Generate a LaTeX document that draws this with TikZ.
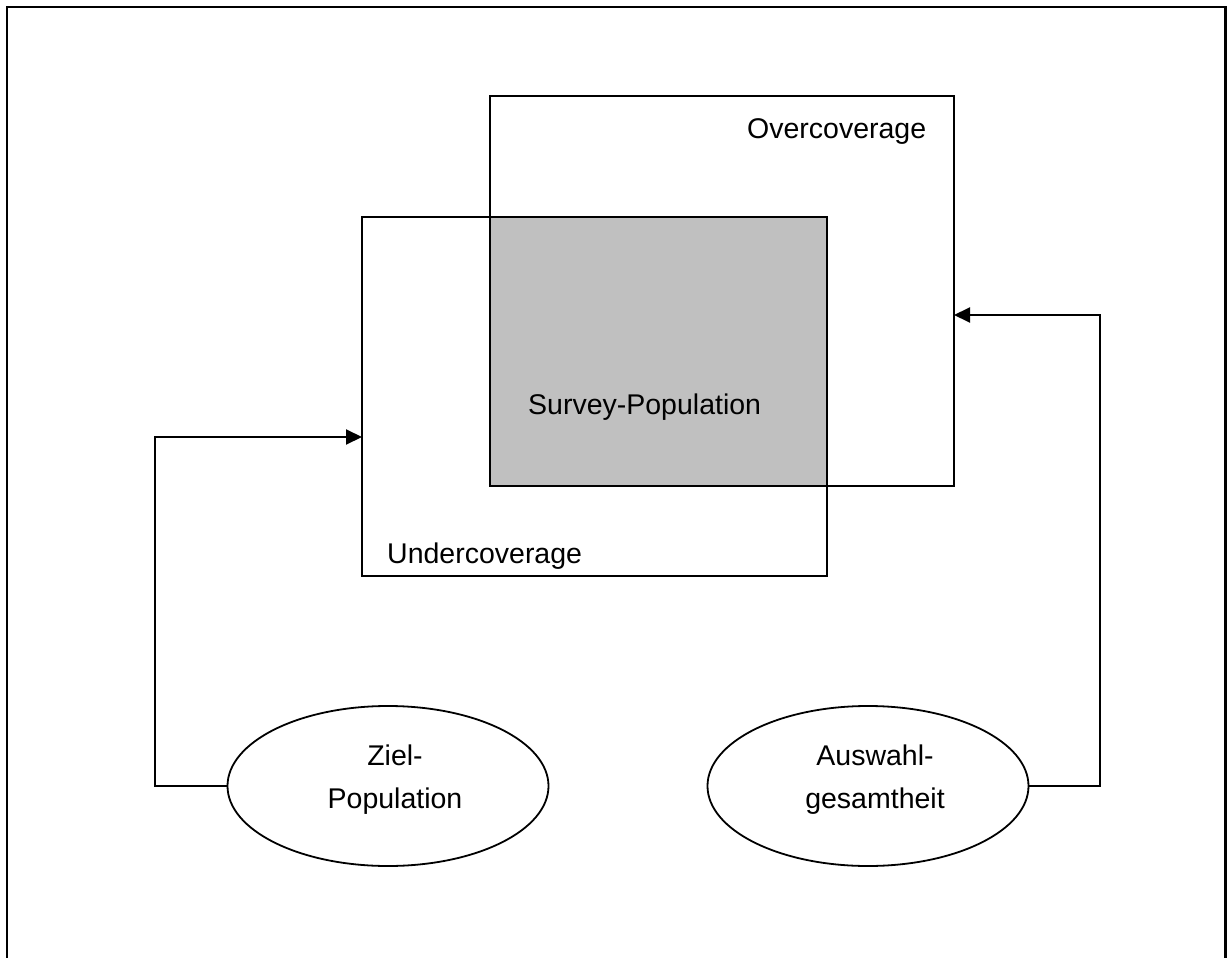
\documentclass[tikz,border=0pt]{standalone}
\usepackage{fontspec}
\setmainfont{Liberation Sans}
\usetikzlibrary{arrows.meta,shapes.geometric}
\definecolor{surveygray}{HTML}{C0C0C0}
\tikzset{
  frame/.style={draw, line width=2pt, rectangle, inner sep=0pt, outer sep=0pt},
  popell/.style={draw, line width=1.8pt, ellipse, inner sep=0pt, outer sep=0pt,
                 minimum width=321pt, minimum height=160pt},
  lbl/.style={inner sep=0pt, anchor=base west, font=\fontsize{28.5}{43}\selectfont},
  elltext/.style={inner sep=0pt, align=center, anchor=base, font=\fontsize{28.5}{43}\selectfont},
  arr/.style={line width=2pt, -{Triangle[length=16pt, width=15pt]}}
}
\begin{document}
\begin{tikzpicture}[x=1pt, y=-1pt]
  \useasboundingbox (0,0) rectangle (1227,958);
  % outer frame (bottom edge lies below the page)
  \draw[line width=2.5pt] (7,7) rectangle (1225.5,975);

  % overlap of both populations
  \fill[surveygray] (490,217) rectangle (827,486);

  % sampling frame (over) and target population (under)
  \node[frame, minimum width=464pt, minimum height=390pt] (over) at (722,291) {};
  \node[frame, minimum width=465pt, minimum height=359pt] (under) at (594.5,396.5) {};

  \node[lbl] (overtxt) at (747,138) {Overcoverage};
  \node[lbl] (undertxt) at (387,563) {Undercoverage};
  \node[lbl] (survtxt) at (528,414) {Survey-Population};

  % the two populations as ellipses
  \node[popell] (ziel) at (388,786) {};
  \node[popell] (ausw) at (868,786) {};
  % the base anchor sits on the last line of each caption
  \node[elltext] (zieltxt) at (395,808) {Ziel-\\Population};
  \node[elltext] (auswtxt) at (875,808) {Auswahl-\\gesamtheit};

  % connectors
  \coordinate (kL) at (154.5,437);
  \coordinate (kR) at (1099.5,315);
  \draw[arr] (ziel.west) -| (kL) -- (under.west |- kL);
  \draw[arr] (ausw.east) -| (kR) -- (over.east |- kR);
\end{tikzpicture}
\end{document}
